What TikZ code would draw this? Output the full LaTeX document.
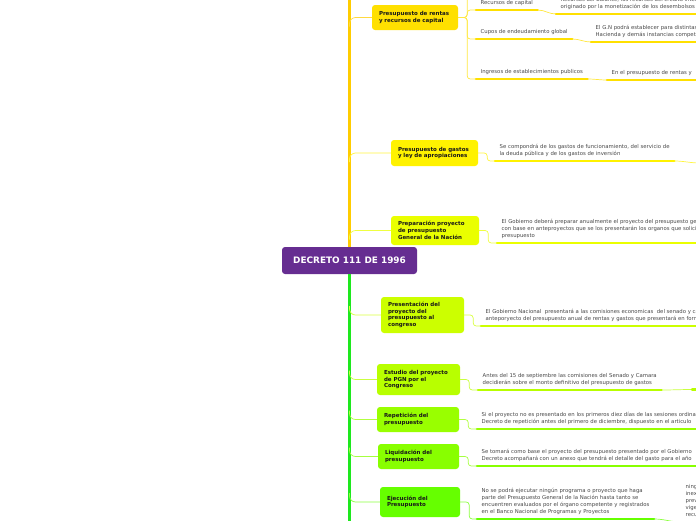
\documentclass[tikz,border=0pt]{standalone}
\usepackage{fontspec}
\setmainfont{DejaVu Sans}
\usetikzlibrary{calc}

\definecolor{dpurple}{HTML}{662D91}
\definecolor{ctA}{HTML}{FFCC00}
\definecolor{ctB}{HTML}{1EE81E}
\definecolor{cA}{HTML}{FFE000}
\definecolor{cB}{HTML}{FFF200}
\definecolor{cC}{HTML}{EAFF00}
\definecolor{cD}{HTML}{CCFF00}
\definecolor{cE}{HTML}{B8FF00}
\definecolor{cF}{HTML}{99FF00}
\definecolor{cG}{HTML}{88FF00}
\definecolor{cH}{HTML}{66FF00}

\begin{document}
\begin{tikzpicture}[x=1pt, y=-1pt,
    every node/.style={font=\fontsize{5.35}{7}\selectfont},
    hub/.style={fill=dpurple, text=white, rounded corners=3pt,
      font=\fontsize{8.9}{10}\selectfont\bfseries,
      minimum width=135pt, minimum height=27pt},
    topic/.style={rounded corners=3pt, align=left, text=black!90, inner xsep=7pt,
      font=\fontsize{5.5}{6.7}\selectfont\bfseries},
    leaf/.style={anchor=south west, align=left, text=black!72,
      inner xsep=4.5pt, inner ysep=4.2pt, text depth=1.3pt},
    ul/.style={line width=2.6pt, line cap=round, draw=#1},
    link/.style={line width=0.7pt, draw=#1!75!white},
    trunk/.style={line width=3pt, draw=#1}]
  \useasboundingbox (0,0) rectangle (696,520);
  \clip (0,0) rectangle (696,520);

  % Tronco y nodo central
  \coordinate (ttop) at (349.5,-6);
  \coordinate (tbot) at (349.5,526);
  \node[hub] (dec) at (349.5,260.5) {DECRETO 111 DE 1996};
  \draw[trunk=ctA] (dec.north) -- (ttop);
  \draw[trunk=ctB] (dec.south) -- (tbot);

  % Temas
  \node[topic, fill=cA, minimum width=86pt, minimum height=25pt, text width=72pt] (rentas) at (415,17.5) {Presupuesto de rentas\\y recursos de capital};
  \node[topic, fill=cB, minimum width=87pt, minimum height=26pt, text width=73pt] (gastos) at (434.5,153) {Presupuesto de gastos\\y ley de apropiaciones};
  \node[topic, fill=cC, minimum width=88pt, minimum height=29pt, text width=74pt] (prep) at (435,230.5) {Preparación proyecto\\de presupuesto\\General de la Nación};
  \node[topic, fill=cD, minimum width=83pt, minimum height=36pt, text width=69pt] (pres) at (422.5,315) {Presentación del\\proyecto del\\presupuesto al\\congreso};
  \node[topic, fill=cE, minimum width=83pt, minimum height=31pt, text width=69pt] (estudio) at (418.5,379.5) {Estudio del proyecto\\de PGN por el\\Congreso};
  \node[topic, fill=cF, minimum width=82pt, minimum height=25pt, text width=68pt] (repet) at (418,419.5) {Repetición del\\presupuesto};
  \node[topic, fill=cG, minimum width=81pt, minimum height=25pt, text width=67pt] (liq) at (418.5,456.5) {Liquidación del\\presupuesto};
  \node[topic, fill=cH, minimum width=80pt, minimum height=30pt, text width=66pt] (ejec) at (420,502) {Ejecución del\\Presupuesto};

  % Ramas del tronco
  \draw[link=ctA, rounded corners=6pt] (dec.north |- rentas.west) ++(0,9) |- (rentas.west);
  \draw[link=cB, rounded corners=6pt] (dec.north |- gastos.west) ++(0,9) |- (gastos.west);
  \draw[link=cC, rounded corners=6pt] (dec.north |- prep.west) ++(0,9) |- (prep.west);
  \draw[link=cD, rounded corners=6pt] (dec.south |- pres.west) ++(0,-9) |- (pres.west);
  \draw[link=cE, rounded corners=6pt] (dec.south |- estudio.west) ++(0,-9) |- (estudio.west);
  \draw[link=cF, rounded corners=6pt] (dec.south |- repet.west) ++(0,-9) |- (repet.west);
  \draw[link=cG, rounded corners=6pt] (dec.south |- liq.west) ++(0,-9) |- (liq.west);
  \draw[link=cH, rounded corners=6pt] (dec.south |- ejec.west) ++(0,-9) |- (ejec.west);

  % Rentas y recursos de capital
  \coordinate (rtop) at (476,-12);
  \node[leaf] (capital) at (476,10) {Recursos de capital};
  \node[leaf] (cupos) at (476,39) {Cupos de endeudamiento global};
  \node[leaf] (ingresos) at (476,79) {Ingresos de establecimientos publicos};
  \node[leaf] (balance) at (556,14) {Recursos del balance, los recursos del crédito interno\\originado por la monetización de los desembolsos};
  \node[leaf] (distintas) at (591,42) {El G.N podrá establecer para distintas\\Hacienda y demás instancias competentes};
  \node[leaf] (establ) at (607,80) {En el presupuesto de rentas y};
  \draw[link=cA, rounded corners=3pt] (rentas.east) -- ++(9,0) |- (rtop);
  \foreach \n in {capital, cupos, ingresos}
    \draw[link=cA, rounded corners=3pt] (rentas.east) -- ++(9,0) |- (\n.south west);
  \draw[link=cA] (capital.south east) to[out=0,in=180] (balance.south west);
  \draw[link=cA] (cupos.south east) to[out=0,in=180] (distintas.south west);
  \draw[link=cA] (ingresos.south east) to[out=0,in=180] (establ.south west);

  % Textos de los demas temas
  \node[leaf] (compone) at (495,161) {Se compondrá de los gastos de funcionamiento, del servicio de\\la deuda pública y de los gastos de inversión};
  \node[leaf] (anual) at (497,243) {El Gobierno deberá preparar anualmente el proyecto del presupuesto general\\con base en anteproyectos que se los presentarán los organos que solicitan\\presupuesto};
  \node[leaf] (comis) at (481,326) {El Gobierno Nacional\ \ presentará a las comisiones economicas\ \ del senado y camara\\anteporyecto del presupuesto anual de rentas y gastos que presentará en forma};
  \node[leaf] (septi) at (478,390) {Antes del 15 de septiembre las comisiones del Senado y Camara\\decidierán sobre el monto definitivo del presupuesto de gastos};
  \node[leaf] (diez) at (477,429) {Si el proyecto no es presentado en los primeros diez días de las sesiones ordinarias\\Decreto de repetición antes del primero de diciembre, dispuesto en el articulo};
  \node[leaf] (base) at (477,466) {Se tomará como base el proyecto del presupuesto presentado por el Gobierno\\Decreto acompañará con un anexo que tendrá el detalle del gasto para el año};
  \node[leaf] (ejecutar) at (477,519) {No se podrá ejecutar ningún programa o proyecto que haga\\parte del Presupuesto General de la Nación hasta tanto se\\encuentren evaluados por el órgano competente y registrados\\en el Banco Nacional de Programas y Proyectos};
  \node[leaf] (ningun) at (681,522) {ningún\\inexistencia\\previo\\vigencia\\recursos};
  \coordinate (gasto) at (700,163);
  \coordinate (monto) at (692,389.5);
  \foreach \a/\b/\c in {gastos/compone/cB, prep/anual/cC, pres/comis/cD, estudio/septi/cE,
      repet/diez/cF, liq/base/cG, ejec/ejecutar/cH}
    \draw[link=\c, rounded corners=3pt] (\a.east) -- ++(9,0) |- (\b.south west);
  \draw[link=cB] (compone.south east) to[out=0,in=180] (gasto);
  \draw[link=cE] (septi.south east) to[out=0,in=180] (monto);
  \draw[link=cH] (ejecutar.south east) to[out=0,in=180] (ningun.south west);

  % Subrayados
  \foreach \n/\c in {capital/cA, cupos/cA, ingresos/cA, balance/cA, distintas/cA, establ/cA,
      compone/cB, anual/cC, comis/cD, septi/cE, diez/cF, base/cG, ejecutar/cH, ningun/cH}
    \draw[ul=\c] (\n.south west) -- (\n.south east);
  \draw[ul=cE] (monto) -- ++(12,0);
\end{tikzpicture}
\end{document}
